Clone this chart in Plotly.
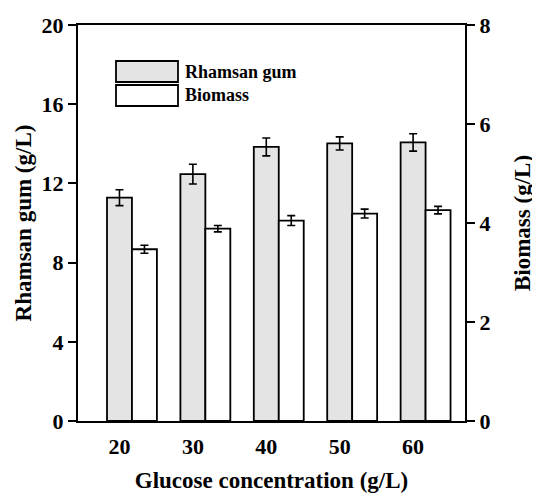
import plotly.graph_objects as go

glucose = ["20", "30", "40", "50", "60"]
gum = [11.28, 12.47, 13.84, 14.02, 14.07]
gum_err = [0.40, 0.50, 0.45, 0.33, 0.44]
biomass = [3.47, 3.885, 4.05, 4.19, 4.26]
biomass_err = [0.08, 0.065, 0.10, 0.09, 0.075]
left_ticks = [0, 4, 8, 12, 16, 20]
right_ticks = [0, 2, 4, 6, 8]

idx = list(range(len(glucose)))
FONT = "Liberation Serif"
BW = 0.34

# page has an 8px body margin; plot area in page px: x 78..465, y 25..421
OFF = 8
fig = go.Figure()
fig.add_trace(go.Bar(
    x=idx, y=gum, width=BW, offset=-BW / 2, name="Rhamsan gum",
    marker=dict(color="#e4e4e4", line=dict(color="black", width=1.8)),
    error_y=dict(type="data", array=gum_err, color="black", thickness=1.6, width=4),
    yaxis="y", showlegend=False,
))
fig.add_trace(go.Bar(
    x=idx, y=biomass, width=BW, offset=BW / 2, name="Biomass",
    marker=dict(color="white", line=dict(color="black", width=1.8)),
    error_y=dict(type="data", array=biomass_err, color="black", thickness=1.6, width=4),
    yaxis="y2", showlegend=False,
))

tickfont = dict(family=FONT, size=22, color="black")
titlefont = dict(family=FONT, size=23, color="black")

fig.update_layout(
    width=540 - OFF, height=493 - OFF,
    margin=dict(l=78 - OFF, r=540 - 465, t=25 - OFF, b=493 - 421),
    paper_bgcolor="white", plot_bgcolor="white",
    barmode="overlay",
    xaxis=dict(
        range=[-0.565, 4.707], tickvals=idx, ticktext=["<b>%s</b>" % g for g in glucose],
        tickfont=tickfont, showgrid=False, zeroline=False, automargin=False,
        showline=True, linecolor="black", linewidth=2, mirror=True, ticks="",
        ticklabelstandoff=5,
        title=dict(text="<b>Glucose concentration (g/L)</b>", font=titlefont, standoff=16),
    ),
    yaxis=dict(
        range=[0, 20], tickvals=left_ticks, ticktext=["<b>%d</b>" % v for v in left_ticks],
        tickfont=tickfont, showgrid=False, zeroline=False, automargin=False,
        showline=True, linecolor="black", linewidth=2,
        ticks="outside", ticklen=8, tickwidth=2, tickcolor="black",
        title=dict(text="<b>Rhamsan gum (g/L)</b>", font=titlefont, standoff=4),
    ),
    yaxis2=dict(
        range=[0, 8], tickvals=right_ticks, ticktext=["<b>%d</b>" % v for v in right_ticks],
        overlaying="y", side="right", automargin=False,
        tickfont=tickfont, showgrid=False, zeroline=False,
        showline=True, linecolor="black", linewidth=2,
        ticks="outside", ticklen=8, tickwidth=2, tickcolor="black",
        title=dict(text="<b>Biomass (g/L)</b>", font=titlefont, standoff=24),
    ),
)

# legend drawn as decoration in paper coordinates
def px2paper_x(px):
    return (px - 78) / (465 - 78)

def px2paper_y(py):
    return (421 - py) / (421 - 25)

legend_items = [("Rhamsan gum", "#e4e4e4", 61, 82), ("Biomass", "white", 85, 106)]
for name, col, y0, y1 in legend_items:
    fig.add_shape(type="rect", xref="paper", yref="paper",
                  x0=px2paper_x(116), x1=px2paper_x(178),
                  y0=px2paper_y(y1), y1=px2paper_y(y0),
                  fillcolor=col, line=dict(color="black", width=1.8))
    fig.add_annotation(xref="paper", yref="paper", x=px2paper_x(183), y=px2paper_y((y0 + y1) / 2),
                       text="<b>%s</b>" % name, showarrow=False, xanchor="left", yanchor="middle",
                       font=dict(family=FONT, size=18, color="black"))

fig.write_html("out.html")
